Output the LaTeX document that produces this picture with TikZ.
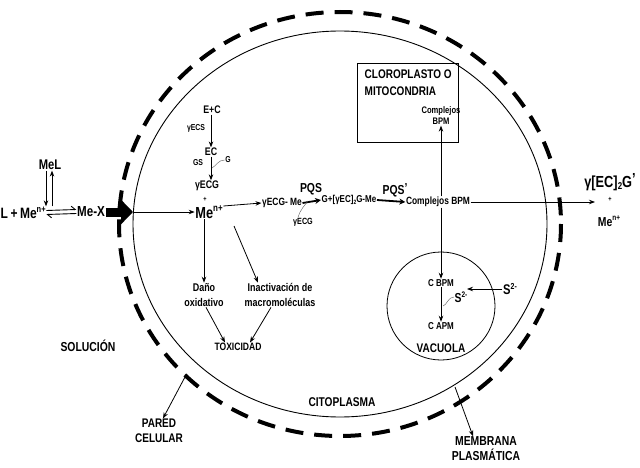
\documentclass[tikz,border=0pt]{standalone}
\usepackage{fontspec}
\setmainfont{Liberation Sans}[FakeStretch=0.8]
\usetikzlibrary{arrows.meta}
\newcommand{\supr}[1]{\raisebox{0.42em}{\scalebox{0.62}{#1}}}
\newcommand{\subr}[1]{\raisebox{-0.18em}{\scalebox{0.62}{#1}}}
\newcommand{\prm}{\raisebox{0.15em}{'}}
\begin{document}
\begin{tikzpicture}[x=1pt,y=-1pt,
  tx/.style={inner sep=0.5pt, font=\bfseries\fontsize{#1}{#1}\selectfont},
  txl/.style={inner sep=0.5pt, align=center, font=\bfseries\fontsize{#1}{15}\selectfont},
  arr/.style={-{Stealth[length=6pt,width=4.5pt]}, line width=0.8pt},
  parr/.style={-{Stealth[length=6pt,width=6pt]}, line width=1.8pt},
  harpR/.style={-{Straight Barb[harpoon,length=4pt,width=7pt]}, line width=0.9pt},
  wav/.style={line width=0.4pt, gray!70!black},
  memb/.style={line width=0.9pt},
  wall/.style={line width=4pt, dash pattern=on 18pt off 11pt}
]
\useasboundingbox (0,0) rectangle (640,468);
% membranes
\draw[memb] (340,224) ellipse [x radius=207, y radius=193];
\draw[wall] (340,224) ellipse [x radius=221, y radius=212];

% solution side
\node[tx=14] (MeL) at (50,165) {MeL};
\node[tx=15, anchor=west] (L) at (0,213) {L\,+\,Me\supr{n+}};
\node[tx=14.5] (MeX) at (91,212) {Me-X};
\draw[arr] ([xshift=-4pt]MeL.south) -- ([xshift=-4pt]MeL.south |- L.north);
\draw[arr] ([xshift=2pt]MeL.south |- L.north) -- ([xshift=2pt]MeL.south);
\draw[harpR] ([yshift=2.5pt]L.east) -- ([yshift=2.5pt]MeX.west);
\draw[harpR] ([yshift=-1.5pt]MeX.west) -- ([yshift=-1.5pt]L.east);
\coordinate (memin) at (133,212);
\draw[line width=9pt, -{Triangle[length=12pt,width=24pt]}] (MeX.east) -- (memin);

% cytoplasm
\node[tx=16] (Men) at (209,212) {Me\supr{n+}};
\draw[arr] (memin) -- (Men.west);
\node[tx=7] (plus1) at (205,199) {+};
\node[tx=11] (gECG) at (207,186) {γECG};
\node[tx=11] (EC) at (211,152) {EC};
\node[tx=11] (EplusC) at (212,110) {E+C};
\node[tx=8.6] (gECS) at (196,128) {γECS};
\node[tx=8.6] (GS) at (198,163) {GS};
\node[tx=8.6] (G) at (228,160) {G};
\draw[arr] (EplusC.south -| EC.north) -- (EC.north);
\draw[arr] (EC.south) -- (gECG.north -| EC.south);
\coordinate (gj) at (212,168);
\draw[wav] (G.west) .. controls (218,160) and (216,166) .. (gj);

\node[tx=10.5] (gECGMe) at (282,203) {γECG- Me};
\draw[arr] ([yshift=6pt]Men.east) -- (gECGMe.west);
\node[tx=10] (GEC) at (349,200) {G+[γEC]\subr{2}G-Me};
\draw[parr] (gECGMe.east) -- (GEC.west);
\node[tx=13] (PQS) at (311,189) {PQS};
\node[tx=9] (gECGb) at (303,222) {γECG};
\coordinate (pj) at (308,201);
\draw[wav] ([xshift=-5pt]gECGb.north) .. controls (300,210) and (305,205) .. (pj);
\node[tx=10.5] (CompBPM) at (438,202) {Complejos BPM};
\draw[parr] (GEC.east) -- (CompBPM.west);
\node[tx=13] (PQS2) at (395,190) {PQS\prm};

% right output
\coordinate (outR) at (595,202);
\draw[arr] (CompBPM.east) -- (outR);
\node[tx=16] (gEC2G) at (610,182) {γ[EC]\subr{2}G\prm};
\node[tx=7] (plus2) at (610,199) {+};
\node[tx=13] (Men2) at (609,221) {Me\supr{n+}};

% organelle box
\node[draw, line width=0.8pt, minimum width=101pt, minimum height=79pt, inner sep=0pt] (box) at (407.5,102.5) {};
\node[tx=12.5, anchor=west] (cloro) at (364,74) {CLOROPLASTO O};
\node[tx=12.5, anchor=west] (mito) at (364,91) {MITOCONDRIA};
\node[inner sep=0.5pt, align=center, font=\bfseries\fontsize{9.5}{11}\selectfont] (boxBPM) at (441,116) {Complejos\\BPM};
\draw[arr] (CompBPM.north -| boxBPM.south) -- (boxBPM.south);

% vacuole
\node[draw, circle, line width=0.8pt, minimum size=108pt, inner sep=0pt] (vac) at (441,306) {};
\node[tx=10] (CBPM) at (441,283) {C BPM};
\node[tx=10] (CAPM) at (441,326) {C APM};
\node[tx=12.5] (VAC) at (441,348) {VACUOLA};
\draw[arr] (CompBPM.south -| CBPM.north) -- (CBPM.north);
\draw[arr] (CBPM.south) -- (CAPM.north);
\node[tx=13] (S2in) at (461,297) {S\supr{2-}};
\coordinate (sj) at (443,306);
\draw[wav] (S2in.west) .. controls (448,297) and (447,305) .. (sj);
\node[tx=14] (S2out) at (510,289) {S\supr{2-}};
\coordinate (s2tip) at (467,289);
\draw[arr] (S2out.west) -- (s2tip);

% toxicity branch
\node[txl=11.2] (Dano) at (204,295) {Daño\\oxidativo};
\node[txl=11.2] (Inact) at (280,295) {Inactivación de\\macromoléculas};
\node[tx=10.7] (TOX) at (238,347) {TOXICIDAD};
\draw[arr] (Men.south -| Dano.north) -- (Dano.north);
\coordinate (d1) at (234,226);
\draw[arr] (d1) -- ([xshift=-22pt]Inact.north);
\draw[arr] ([xshift=2pt]Dano.south) -- ([xshift=-13pt]TOX.north);
\draw[arr] ([xshift=-9pt]Inact.south) -- ([xshift=12pt]TOX.north);

% labels
\node[tx=13] (SOL) at (88,346) {SOLUCIÓN};
\node[txl=12.5] (PARED) at (159,431) {PARED\\CELULAR};
\coordinate (pw) at (185,377);
\draw[arr] (pw) -- ([xshift=4pt]PARED.north);
\node[tx=12.7] (CITO) at (342,402) {CITOPLASMA};
\node[txl=13] (MEMB) at (486,449) {MEMBRANA\\PLASMÁTICA};
\coordinate (pm) at (455,387);
\draw[arr] (pm) -- ([xshift=-13pt]MEMB.north);
\end{tikzpicture}
\end{document}
